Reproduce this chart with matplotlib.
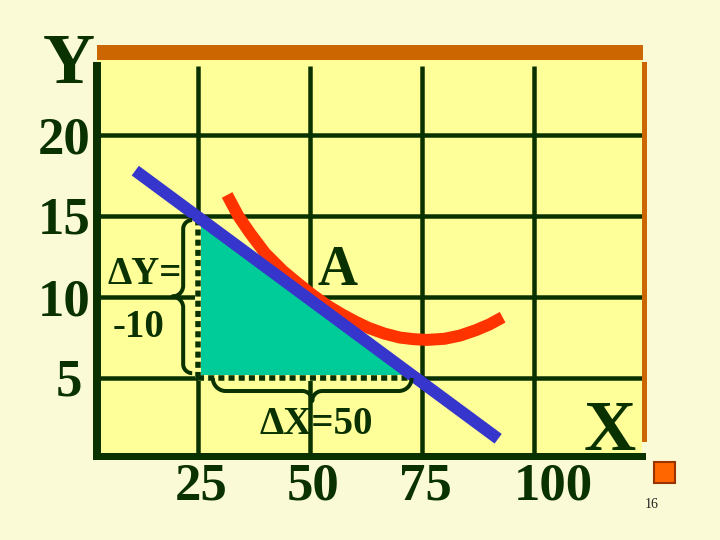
import numpy as np
import matplotlib
matplotlib.use("Agg")
import matplotlib.pyplot as plt
from matplotlib.patches import Polygon, Rectangle
from matplotlib.lines import Line2D
from matplotlib.transforms import offset_copy

# ---------------- data ----------------
x_ticks = [25, 50, 75, 100]
x_tick_labels = ["25", "50", "75", "100"]
y_ticks = [5, 10, 15, 20]
y_tick_labels = ["5", "10", "15", "20"]

# straight blue line (endpoints)
blue_x = [11.0, 92.0]
blue_y = [17.8, 1.25]

# red curve
red_x = [31.5, 34.0, 36.6, 40.0, 44.0, 47.5, 50.7, 54.0, 57.0, 60.0,
         63.0, 66.5, 70.0, 73.0, 76.0, 80.0, 83.5, 87.0, 90.0, 93.0]
red_y = [16.3, 15.0, 13.95, 12.7, 11.6, 10.8, 10.1, 9.45, 8.95, 8.5,
         8.1, 7.75, 7.5, 7.4, 7.35, 7.42, 7.62, 7.95, 8.3, 8.75]

# change triangle
start_x, start_y = 25, 15
delta_x, delta_y = 50, -10

# ---------------- style ----------------
BG = "#fbfad6"
YELLOW = "#ffff99"
DARK = "#0a3200"
ORANGE = "#cc6600"
TEAL = "#00cc99"
BLUE = "#3636cc"
RED = "#ff3300"
SERIF = "Liberation Serif"

W, H = 720, 540
fig = plt.figure(figsize=(7.2, 5.4), dpi=100, facecolor=BG)


def fx(px):
    return px / W


def fy(py):
    return 1 - py / H


def pt(px):
    return px * 72 / 100


# axes area in pixels (top-left origin)
L_PX, R_PX, T_PX, B_PX = 97, 642, 60, 456
ax = fig.add_axes([fx(L_PX), fy(B_PX), fx(R_PX - L_PX), (B_PX - T_PX) / H])
ax.set_facecolor(YELLOW)
XLIM = ((L_PX - 86) / 4.48, (R_PX - 86) / 4.48)
YLIM = ((459 - B_PX) / 16.2, (459 - T_PX) / 16.2)
ax.set_xlim(*XLIM)
ax.set_ylim(*YLIM)
grid_top = (459 - 66) / 16.2

for s in ["top", "right"]:
    ax.spines[s].set_visible(False)
ax.spines["left"].set_color(DARK)
ax.spines["left"].set_linewidth(pt(8))
ax.spines["left"].set_bounds(YLIM[0], grid_top)
ax.spines["left"].set_capstyle("projecting")
ax.spines["bottom"].set_color(DARK)
ax.spines["bottom"].set_linewidth(pt(7))
ax.set_xticks([])
ax.set_yticks([])

# grid
ax.hlines(y_ticks, XLIM[0], XLIM[1], color=DARK, lw=pt(4.5), zorder=1)
ax.vlines(x_ticks, YLIM[0], grid_top, color=DARK, lw=pt(4.5), zorder=1)

# triangle
tri = Polygon([(start_x, start_y), (start_x, start_y + delta_y),
               (start_x + delta_x, start_y + delta_y)],
              closed=True, facecolor=TEAL, edgecolor="none", zorder=2)
ax.add_patch(tri)

# dotted legs
leg_v = ([start_x, start_x], [start_y + delta_y, start_y])
leg_h = ([start_x, start_x + delta_x], [start_y + delta_y, start_y + delta_y])
for lx, ly in (leg_v, leg_h):
    ax.plot(lx, ly, color=YELLOW, lw=pt(6), solid_capstyle="butt", zorder=3)
    ax.plot(lx, ly, color=DARK, lw=pt(5.5), linestyle=(0, (1.1, 0.75)),
            dash_capstyle="butt", zorder=3.1)

# curves
ax.plot(red_x, red_y, color=RED, lw=pt(12), solid_capstyle="butt",
        solid_joinstyle="round", zorder=4)
ax.plot(blue_x, blue_y, color=BLUE, lw=pt(12), solid_capstyle="butt", zorder=5)


# braces (built in display pixels)
def brace(p0, p1, tipdir, a, b, lw=pt(4)):
    p0 = np.asarray(p0, float)
    p1 = np.asarray(p1, float)
    Lpx = np.linalg.norm(p1 - p0)
    eu = (p1 - p0) / Lpx
    ev = np.asarray(tipdir, float)
    t = np.linspace(0, np.pi / 2, 25)
    r1, r2 = a, b
    s1 = np.c_[r1 - r1 * np.cos(t), a * np.sin(t)]
    s3 = np.c_[Lpx / 2 - r2 + r2 * np.sin(t), a + b - b * np.cos(t)]
    half = np.vstack([s1, s3])
    other = half[::-1].copy()
    other[:, 0] = Lpx - other[:, 0]
    loc = np.vstack([half, other])
    disp = p0 + loc[:, :1] * eu + loc[:, 1:] * ev
    figc = fig.transFigure.inverted().transform(disp)
    fig.add_artist(Line2D(figc[:, 0], figc[:, 1], color=DARK, lw=lw,
                          transform=fig.transFigure, zorder=6,
                          solid_capstyle="butt"))


td = ax.transData
# delta-Y brace, left of the vertical leg
bx = start_x - 1.3
brace(td.transform((bx, start_y - 0.25)), td.transform((bx, start_y + delta_y + 0.3)),
      (-1, 0), 9, 11)
# delta-X brace, below the horizontal leg
by = start_y + delta_y
brace(td.transform((start_x + 3.3, by)), td.transform((start_x + delta_x - 2.3, by)),
      (0, -1), 13, 10)

# tick labels
y_nudge = {"5": -8}
for v, lab in zip(y_ticks, y_tick_labels):
    tr = offset_copy(ax.transData, fig=fig, x=-7 + y_nudge.get(lab, 0), y=-18,
                     units="dots")
    ax.text(XLIM[0], v, lab, transform=tr, ha="right", va="baseline",
            fontsize=38, fontweight="bold", family=SERIF, color=DARK,
            clip_on=False)
x_nudge = {"100": 16}
for v, lab in zip(x_ticks, x_tick_labels):
    tr = offset_copy(ax.transData, fig=fig, x=3 + x_nudge.get(lab, 0),
                     y=-(500 - B_PX), units="dots")
    ax.text(v, YLIM[0], lab, transform=tr, ha="center", va="baseline",
            fontsize=38, fontweight="bold", family=SERIF, color=DARK,
            clip_on=False)

# annotations (figure pixels)
kw = dict(family=SERIF, fontweight="bold", color=DARK)
fig.text(fx(69), fy(83), "Y", ha="center", va="baseline", fontsize=52, **kw)
fig.text(fx(636), fy(450), "X", ha="right", va="baseline", fontsize=52,
         zorder=7, **kw)
fig.text(fx(337), fy(285), "A", ha="center", va="baseline", fontsize=40,
         zorder=7, **kw)
fig.text(fx(108), fy(284), "\u0394Y=", ha="left", va="baseline", fontsize=28,
         zorder=7, **kw)
fig.text(fx(113), fy(337), "-10", ha="left", va="baseline", fontsize=28,
         zorder=7, **kw)
fig.text(fx(259), fy(434), "\u0394X=50", ha="left", va="baseline", fontsize=28,
         zorder=7, **kw)

# orange frame pieces
fig.add_artist(Rectangle((fx(97), fy(60)), fx(546), 15 / H, transform=fig.transFigure,
                         facecolor=ORANGE, edgecolor="none", zorder=0.5))
fig.add_artist(Rectangle((fx(642), fy(442)), fx(5), 380 / H, transform=fig.transFigure,
                         facecolor=ORANGE, edgecolor="none", zorder=0.5))

# slide decoration
fig.add_artist(Rectangle((fx(654), fy(483)), fx(21), 21 / H, transform=fig.transFigure,
                         facecolor="#ff6600", edgecolor="#993300", lw=1.5))
fig.text(fx(652), fy(508), "16", ha="center", va="baseline", fontsize=10,
         family=SERIF, color="#222222")

fig.savefig("out.png", dpi=100, facecolor=BG)
